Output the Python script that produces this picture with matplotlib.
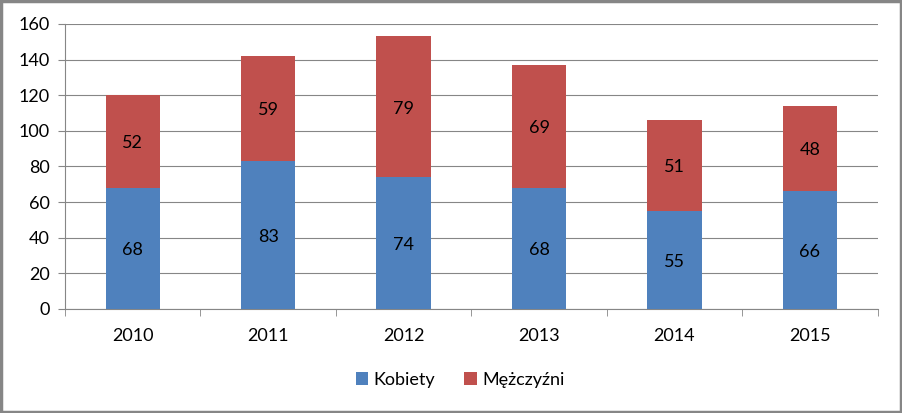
import numpy as np
import matplotlib.pyplot as plt
from matplotlib.patches import Rectangle

years = ['2010', '2011', '2012', '2013', '2014', '2015']
kobiety = [68, 83, 74, 68, 55, 66]
mezczyzni = [52, 59, 79, 69, 51, 48]

plt.rcParams['font.family'] = ['Lato', 'DejaVu Sans']
plt.rcParams['font.size'] = 13

fig = plt.figure(figsize=(9.02, 4.13), dpi=100)
ax = fig.add_axes([0.072, 0.252, 0.901, 0.69])

x = np.arange(len(years))
blue = '#4F81BD'
red = '#C0504D'
b1 = ax.bar(x, kobiety, width=0.4, color=blue, label='Kobiety', zorder=3)
b2 = ax.bar(x, mezczyzni, width=0.4, bottom=kobiety, color=red, label='Mężczyźni', zorder=3)

for i in range(len(years)):
    ax.text(x[i], kobiety[i] / 2 - 1, str(kobiety[i]), ha='center', va='center', zorder=4)
    ax.text(x[i], kobiety[i] + mezczyzni[i] / 2 - 1, str(mezczyzni[i]), ha='center', va='center', zorder=4)

ax.set_xlim(-0.5, len(years) - 0.5)
ax.set_ylim(0, 160)
ax.set_yticks(range(0, 161, 20))
ax.grid(axis='y', color='#868686', linewidth=0.8, zorder=0)

# category ticks sit between the bars, labels in the middle
ax.set_xticks(x)
ax.set_xticklabels(years)
ax.set_xticks(np.arange(-0.5, len(years)), minor=True)
ax.tick_params(axis='x', which='major', length=0, pad=14)
ax.tick_params(axis='x', which='minor', length=5, color='#868686')
ax.tick_params(axis='y', length=5, color='#868686', pad=6)

for s in ['top', 'right']:
    ax.spines[s].set_visible(False)
for s in ['left', 'bottom']:
    ax.spines[s].set_color('#868686')
    ax.spines[s].set_linewidth(0.8)

fig.legend(handles=[b1, b2], loc='center', bbox_to_anchor=(0.51, 0.08), ncol=2,
           frameon=False, handlelength=0.7, handleheight=0.7, handletextpad=0.3,
           columnspacing=1.6)

fig.patches.append(Rectangle((0.0015, 0.003), 0.997, 0.994, transform=fig.transFigure,
                             fill=False, edgecolor='#868686', linewidth=2.5))

fig.savefig('out.png', dpi=100)
